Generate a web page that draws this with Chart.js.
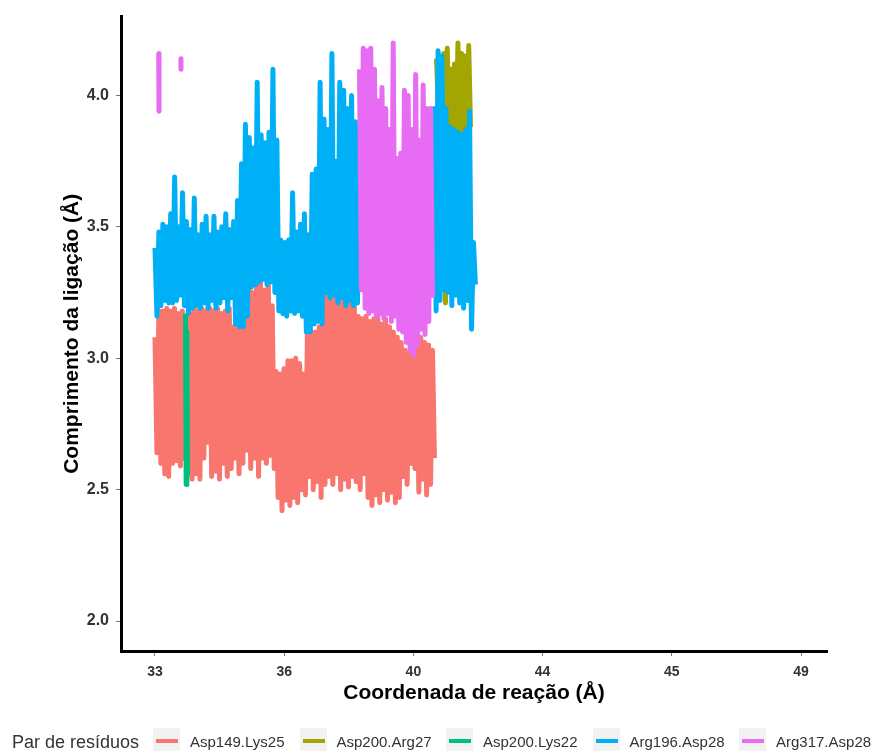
<!DOCTYPE html>
<html>
<head>
<meta charset="utf-8">
<script src="https://cdn.jsdelivr.net/npm/chart.js@4/dist/chart.umd.min.js"></script>
<style>
html,body{margin:0;padding:0;background:#fff;}
#wrap{position:relative;width:877px;height:751px;overflow:hidden;background:#fff;}
#c{position:absolute;left:0;top:0;}
#legend{position:absolute;left:0;top:0;width:877px;height:751px;pointer-events:none;font-family:"Liberation Sans",Arial,Helvetica,sans-serif;}
.lg-title{position:absolute;left:12px;top:730px;font-size:18px;line-height:24px;color:#333;white-space:nowrap;}
.lg-key{position:absolute;top:728px;width:27px;height:23px;background:#F2F2F2;}
.lg-key span{position:absolute;left:3px;top:11px;width:22px;height:4px;}
.lg-text{position:absolute;top:730px;font-size:15px;line-height:24px;color:#333;white-space:nowrap;}
</style>
</head>
<body>
<div id="wrap">
  <canvas id="c" width="877" height="751"></canvas>
  <div id="legend"></div>
</div>
<script>
// ---------------- DATA ----------------
const xTickLabels = ['33', '36', '40', '44', '45', '49'];
const yTickValues = [2.0, 2.5, 3.0, 3.5, 4.0];
const seriesNames = ['Asp149.Lys25', 'Asp200.Arg27', 'Asp200.Lys22', 'Arg196.Asp28', 'Arg317.Asp28'];
const legendTitle = 'Par de resíduos';
const xTitle = 'Coordenada de reação (Å)';
const yTitle = 'Comprimento da ligação (Å)';

// x extents of each trace, in axis units (tick index 0 = "33")
const asp149Span = [0.0, 2.163];
const asp200Arg27Span = [2.179, 2.442];
const asp200Lys22Span = [0.236, 0.252];
const arg196Span = [0.0, 2.48];
const arg317Span = [1.583, 2.148];

// Asp149.Lys25 – upper / lower values of the oscillating trace
const asp149High = [
  3.08,3.18,3.18,3.19,3.18,3.19,3.17,3.18,3.16,3.17,
  3.19,3.18,3.19,3.18,3.19,3.18,3.19,3.17,3.18,3.19,
  3.12,3.12,3.12,3.20,3.27,3.25,3.28,3.29,3.26,3.28,
  3.20,2.95,2.94,2.96,2.99,2.99,3.00,2.98,2.94,3.10,
  3.10,3.10,3.12,3.23,3.24,3.22,3.25,3.22,3.24,3.21,
  3.23,3.20,3.16,3.15,3.16,3.14,3.15,3.16,3.13,3.15,
  3.12,3.10,3.08,3.06,3.03,3.02,3.04,3.06,3.08,3.06,
  3.05,3.03
];
const asp149Low = [
  2.64,2.60,2.56,2.55,2.60,2.61,2.59,2.62,2.60,2.54,
  2.56,2.54,2.62,2.68,2.55,2.57,2.54,2.60,2.55,2.58,
  2.62,2.56,2.60,2.65,2.58,2.62,2.55,2.62,2.60,2.63,
  2.58,2.47,2.42,2.46,2.44,2.47,2.45,2.50,2.48,2.55,
  2.50,2.53,2.47,2.52,2.55,2.52,2.56,2.50,2.54,2.51,
  2.55,2.53,2.50,2.56,2.47,2.44,2.48,2.45,2.50,2.46,
  2.49,2.45,2.47,2.55,2.52,2.60,2.58,2.49,2.54,2.48,
  2.52,2.62
];

// Asp200.Arg27
const asp200Arg27High = [4.14,4.12,4.16,4.18,4.10,4.12,4.20,4.16,4.15,4.19];
const asp200Arg27Low  = [3.95,3.90,3.21,3.88,3.60,3.87,3.56,3.20,3.87,3.88];

// Asp200.Lys22
const asp200Lys22High = [3.17, 3.10];
const asp200Lys22Low  = [2.52, 2.55];

// Arg196.Asp28
const arg196High = [
  3.42,3.48,3.51,3.50,3.55,3.69,3.50,3.63,3.52,3.49,
  3.61,3.47,3.51,3.54,3.47,3.54,3.48,3.50,3.55,3.49,
  3.52,3.60,3.74,3.89,3.84,3.80,4.05,3.85,3.82,3.86,
  4.10,3.83,3.45,3.44,3.45,3.63,3.48,3.51,3.55,3.47,
  3.70,3.72,4.05,3.91,3.87,4.16,3.75,4.05,4.02,3.95,
  4.00,3.90,3.62,3.60,3.58,3.62,3.55,3.60,3.58,3.55,
  3.60,3.58,3.55,3.60,3.57,3.62,3.58,3.55,3.60,3.62,
  3.70,3.95,4.17,4.15,3.95,3.88,3.87,3.86,3.85,3.87,
  3.94,3.44
];
const arg196Low = [
  3.16,3.20,3.22,3.21,3.21,3.22,3.24,3.20,3.17,3.19,
  3.20,3.19,3.21,3.19,3.22,3.19,3.21,3.23,3.18,3.23,
  3.13,3.12,3.12,3.16,3.27,3.28,3.29,3.30,3.28,3.29,
  3.25,3.18,3.17,3.16,3.18,3.17,3.18,3.16,3.10,3.10,
  3.13,3.14,3.13,3.25,3.23,3.24,3.21,3.23,3.20,3.22,
  3.20,3.21,3.30,3.30,3.30,3.30,3.30,3.30,3.30,3.30,
  3.30,3.30,3.30,3.30,3.30,3.30,3.30,3.30,3.30,3.30,
  3.25,3.18,3.22,3.26,3.25,3.20,3.24,3.21,3.19,3.22,
  3.11,3.28
];

// Arg317.Asp28 – two short early fragments, then the main block
const arg317FragPos = [0.029, 0.201];
const arg317Frag1 = [4.16, 3.94];
const arg317Frag2 = [4.14, 4.10];
const arg317High = [4.10,4.18,4.17,4.18,4.10,3.98,4.03,3.95,3.87,4.20,3.76,3.78,4.02,4.00,3.87,4.08,3.83,4.04,3.95,3.95];
const arg317Low  = [3.26,3.19,3.17,3.18,3.16,3.17,3.15,3.17,3.14,3.16,3.11,3.10,3.06,3.03,3.01,3.05,3.11,3.09,3.14,3.23];

const seriesColors = ['#F8766D', '#A3A500', '#00BF7D', '#00B0F6', '#E76BF3'];

// ---------------- BUILD ----------------
function trace(span, highs, lows) {
  const n = highs.length * 2;
  const step = n > 1 ? (span[1] - span[0]) / (n - 1) : 0;
  const pts = [];
  for (let i = 0; i < n; i++) {
    const k = Math.floor(i / 2);
    pts.push({x: span[0] + i * step, y: (i % 2 === 0) ? highs[k] : lows[k]});
  }
  return pts;
}

const arg317Points = [
  {x: arg317FragPos[0], y: arg317Frag1[0]}, {x: arg317FragPos[0] + 0.002, y: arg317Frag1[1]},
  {x: arg317FragPos[0] + 0.01, y: null},
  {x: arg317FragPos[1], y: arg317Frag2[0]}, {x: arg317FragPos[1] + 0.0001, y: arg317Frag2[1]},
  {x: arg317FragPos[1] + 0.01, y: null}
].concat(trace(arg317Span, arg317High, arg317Low));

const seriesData = [
  trace(asp149Span, asp149High, asp149Low),
  trace(asp200Arg27Span, asp200Arg27High, asp200Arg27Low),
  trace(asp200Lys22Span, asp200Lys22High, asp200Lys22Low),
  trace(arg196Span, arg196High, arg196Low),
  arg317Points
];

const datasets = seriesNames.map((name, i) => ({
  label: name,
  data: seriesData[i],
  borderColor: seriesColors[i],
  backgroundColor: seriesColors[i],
  borderWidth: 5,
  pointRadius: 0,
  tension: 0,
  fill: false,
  spanGaps: false,
  borderJoinStyle: 'round',
  borderCapStyle: 'butt',
  order: seriesNames.length - i
}));

const FAM = '"Liberation Sans", Arial, Helvetica, sans-serif';

new Chart(document.getElementById('c').getContext('2d'), {
  type: 'line',
  data: {datasets},
  options: {
    responsive: false,
    animation: false,
    devicePixelRatio: 1,
    layout: {padding: {left: 0, right: 50, top: 16, bottom: 40}},
    plugins: {legend: {display: false}, tooltip: {enabled: false}},
    scales: {
      x: {
        type: 'linear',
        min: -0.263,
        max: 5.201,
        afterBuildTicks: s => { s.ticks = xTickLabels.map((_, i) => ({value: i})); },
        afterFit: s => { s.height = 60; },
        ticks: {
          autoSkip: false, maxRotation: 0, padding: 8, color: '#333',
          font: {family: FAM, size: 14, weight: 'bold'},
          callback: v => xTickLabels[v]
        },
        grid: {display: true, drawOnChartArea: false, drawTicks: true, tickLength: 5, color: '#777', lineWidth: 1},
        border: {display: true, color: '#000', width: 3},
        title: {display: true, text: xTitle, color: '#000', font: {family: FAM, size: 21, weight: 'bold'}, padding: {top: 0, bottom: 5}}
      },
      y: {
        type: 'linear',
        min: 1.886,
        max: 4.30,
        afterBuildTicks: s => { s.ticks = yTickValues.map(v => ({value: v})); },
        afterFit: s => { s.width = 121; },
        ticks: {
          padding: 7, color: '#333',
          font: {family: FAM, size: 16, weight: 'bold'},
          callback: v => Number(v).toFixed(1)
        },
        grid: {display: true, drawOnChartArea: false, drawTicks: true, tickLength: 5, color: '#777', lineWidth: 1},
        border: {display: true, color: '#000', width: 3},
        title: {display: true, text: yTitle, color: '#000', font: {family: FAM, size: 21, weight: 'bold'}, padding: {top: 60, bottom: 0}}
      }
    }
  }
});

// ---------------- LEGEND ----------------
const lg = document.getElementById('legend');
const t = document.createElement('div');
t.className = 'lg-title';
t.textContent = legendTitle;
lg.appendChild(t);
seriesNames.forEach((name, i) => {
  const left = 153 + i * 146.5;
  const key = document.createElement('div');
  key.className = 'lg-key';
  key.style.left = left + 'px';
  const bar = document.createElement('span');
  bar.style.background = seriesColors[i];
  key.appendChild(bar);
  lg.appendChild(key);
  const tx = document.createElement('div');
  tx.className = 'lg-text';
  tx.style.left = (left + 37) + 'px';
  tx.textContent = name;
  lg.appendChild(tx);
});
</script>
</body>
</html>
